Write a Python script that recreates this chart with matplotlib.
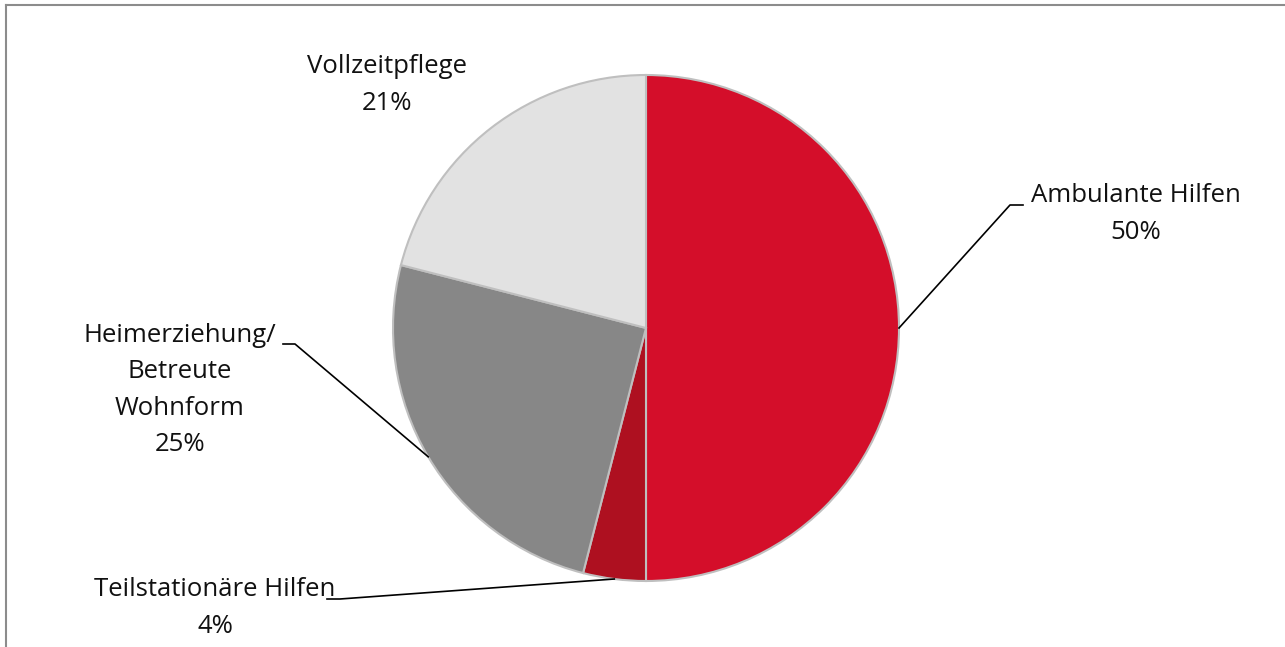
import numpy as np
import matplotlib
import matplotlib.pyplot as plt

matplotlib.rcParams['font.family'] = ['Open Sans', 'DejaVu Sans']

# data
labels = ["Ambulante Hilfen", "Teilstationäre Hilfen", "Heimerziehung/\nBetreute\nWohnform", "Vollzeitpflege"]
shares = [50, 4, 25, 21]
colors = ["#D40E2A", "#AE1020", "#878787", "#E2E2E2"]

W, H = 1285, 647
fig = plt.figure(figsize=(W / 100, H / 100), dpi=100)
ax = fig.add_axes([0, 0, 1, 1])

cx, cy, r = 646, 328, 253
wedges, _ = ax.pie(shares, colors=colors, startangle=-90, counterclock=True,
                   center=(cx, cy), radius=r,
                   wedgeprops=dict(edgecolor="#BFBFBF", linewidth=1.5))

ax.set_xlim(0, W)
ax.set_ylim(H, 0)
ax.set_aspect('equal')
ax.axis('off')

# frame (only top and left visible)
ax.plot([6, W], [5, 5], color="#8C8C8C", lw=1.5, clip_on=False)
ax.plot([6, 6], [5, H], color="#8C8C8C", lw=1.5, clip_on=False)

# label positions (text centre) and leader elbow / end points, None = no leader
text_pos = [(1136, 214), (215, 608), (180, 390), (387, 85)]
elbows = [((1010, 205), (1023, 205)), ((340, 599), (327, 599)), ((295, 344), (283, 344)), None]

for w, lab, s, tp, el in zip(wedges, labels, shares, text_pos, elbows):
    ax.text(tp[0], tp[1], f"{lab}\n{s}%", ha='center', va='center', fontsize=18.5,
            linespacing=1.6, color="#111111")
    if el is not None:
        mid = np.deg2rad((w.theta1 + w.theta2) / 2)
        px, py = cx + r * np.cos(mid), cy + r * np.sin(mid)
        ax.plot([px, el[0][0], el[1][0]], [py, el[0][1], el[1][1]], color="black", lw=1.2)

fig.savefig("out.png", dpi=100)
